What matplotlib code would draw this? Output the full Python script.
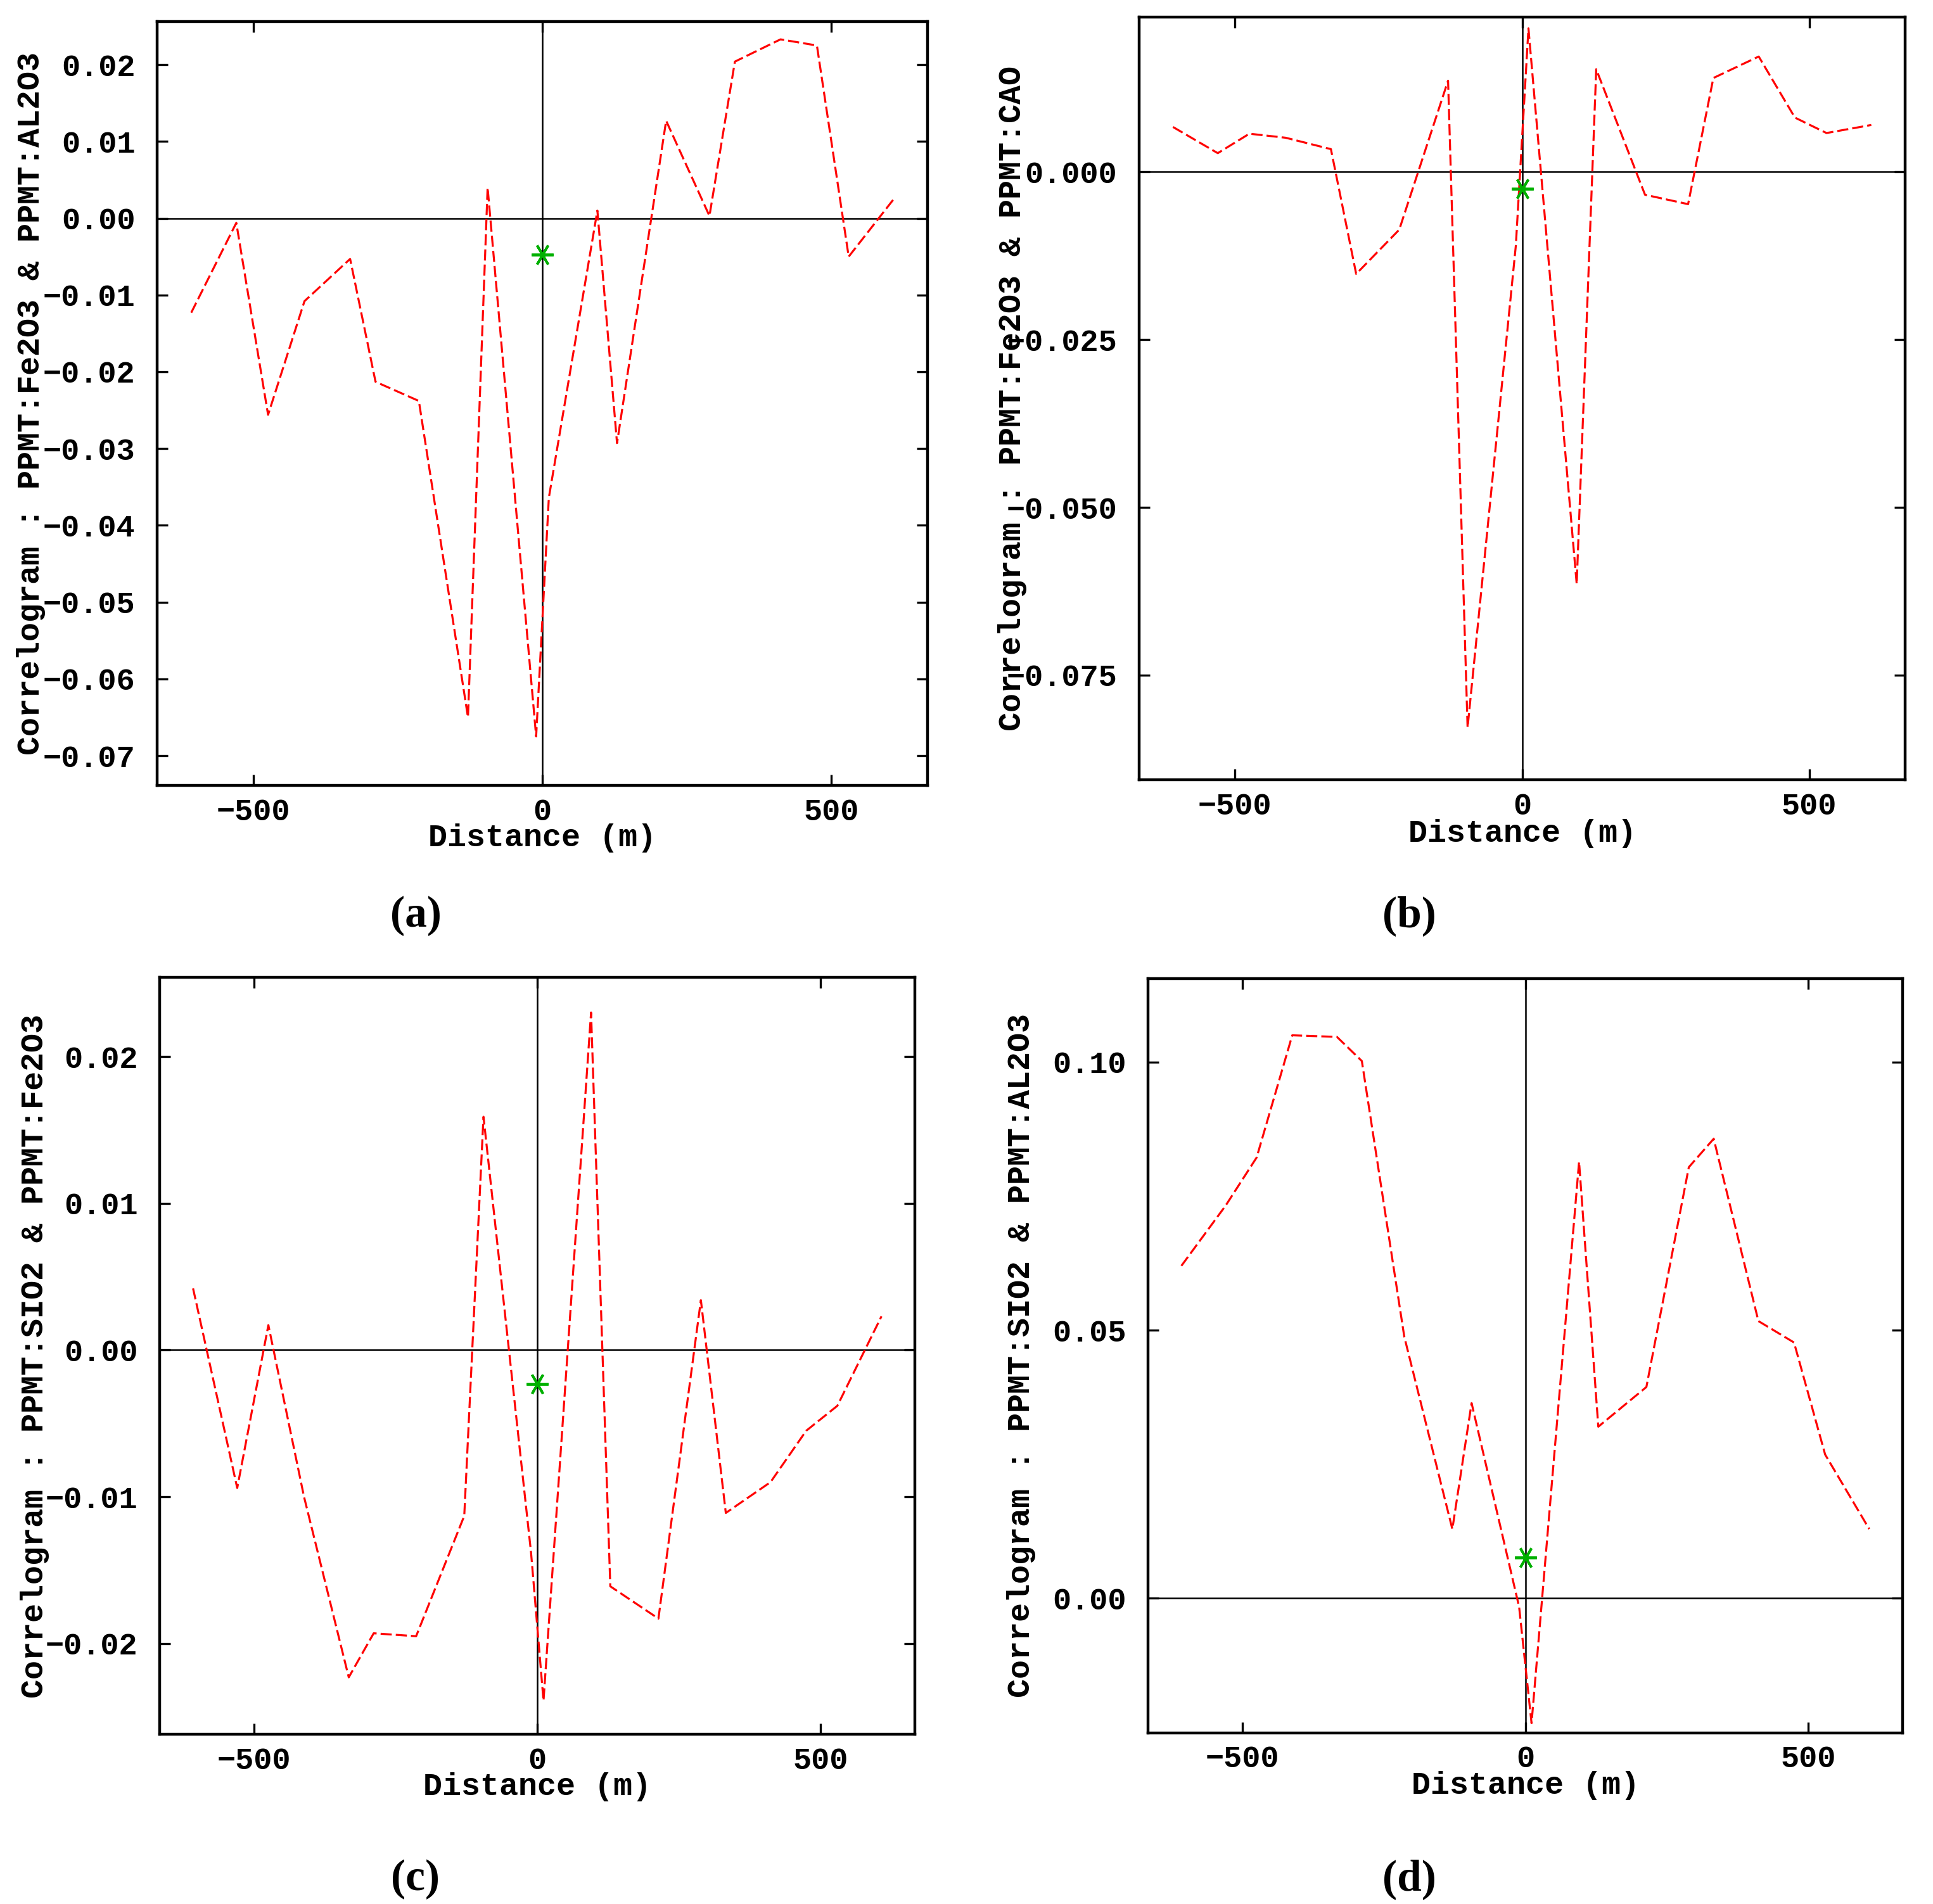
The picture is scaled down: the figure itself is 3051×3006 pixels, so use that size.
import matplotlib
matplotlib.use("Agg")
import matplotlib.pyplot as plt
from matplotlib.ticker import FixedLocator, FuncFormatter

# ---------------- data ----------------
lags = [-608, -530, -475, -412, -333, -289, -214, -129, -95, -11,
        11, 95, 129, 214, 289, 333, 412, 475, 530, 608]

corr_a = [-0.0123, -0.0006, -0.0256, -0.0108, -0.0053, -0.0213, -0.0238, -0.0650, 0.0040, -0.0675,
          -0.0364, 0.0010, -0.0293, 0.0127, 0.0003, 0.0204, 0.0233, 0.0225, -0.0050, 0.0025]
corr_b = [0.0067, 0.0028, 0.0057, 0.0051, 0.0034, -0.0152, -0.0086, 0.0136, -0.0828, -0.0110,
          0.0214, -0.0614, 0.0153, -0.0034, -0.0048, 0.0140, 0.0172, 0.0081, 0.0058, 0.0070]
corr_c = [0.0042, -0.0094, 0.0017, -0.0100, -0.0223, -0.0193, -0.0195, -0.0113, 0.0159, -0.0138,
          -0.0239, 0.0230, -0.0161, -0.0183, 0.0034, -0.0111, -0.0090, -0.0055, -0.0038, 0.0023]
corr_d = [0.0620, 0.0732, 0.0822, 0.1050, 0.1047, 0.1002, 0.0488, 0.0129, 0.0364, -0.0016,
          -0.0233, 0.0814, 0.0320, 0.0394, 0.0804, 0.0857, 0.0517, 0.0477, 0.0268, 0.0129]

star_a, star_b, star_c, star_d = -0.0047, -0.0025, -0.0023, 0.0076

ylabels = ["Correlogram : PPMT:Fe2O3 & PPMT:AL2O3",
           "Correlogram : PPMT:Fe2O3 & PPMT:CAO",
           "Correlogram : PPMT:SIO2 & PPMT:Fe2O3",
           "Correlogram : PPMT:SIO2 & PPMT:AL2O3"]
panel_tags = ["(a)", "(b)", "(c)", "(d)"]
xticks = [-500, 0, 500]
yticks_a = [-0.07, -0.06, -0.05, -0.04, -0.03, -0.02, -0.01, 0.00, 0.01, 0.02]
yticks_b = [-0.075, -0.050, -0.025, 0.000]
yticks_c = [-0.02, -0.01, 0.00, 0.01, 0.02]
yticks_d = [0.00, 0.05, 0.10]
ydec = [2, 3, 2, 2]
ylims = [(-0.0739, 0.0256), (-0.0906, 0.0231), (-0.0262, 0.0254), (-0.0251, 0.1156)]
xlim = (-667, 667)

# ---------------- layout ----------------
positions = [[0.0813, 0.5874, 0.3987, 0.4012],
             [0.5893, 0.5904, 0.3963, 0.4007],
             [0.0826, 0.0890, 0.3907, 0.3977],
             [0.5939, 0.0899, 0.3904, 0.3962]]
ylabel_x = [-0.164, -0.165, -0.165, -0.168]
xlabel_y = [-0.069, -0.0705, -0.069, -0.070]
tag_pos = [(0.215, 0.519), (0.729, 0.519), (0.215, 0.013), (0.729, 0.013)]

MONO = "Liberation Mono"
SERIF = "Liberation Serif"

fig = plt.figure(figsize=(30.51, 30.06), dpi=100)

series = [corr_a, corr_b, corr_c, corr_d]
stars = [star_a, star_b, star_c, star_d]
yticks_all = [yticks_a, yticks_b, yticks_c, yticks_d]


def make_fmt(d):
    def f(v, pos):
        s = f"{abs(v):.{d}f}"
        if v < -1e-12:
            s = "\u2212" + s
        return s
    return f


for i in range(4):
    ax = fig.add_axes(positions[i])
    ax.plot(lags, series[i], color="#ff0000", lw=2.3, linestyle=(0, (5.5, 2.0)), zorder=3)
    ax.axhline(0, color="black", lw=1.8, zorder=2)
    ax.axvline(0, color="black", lw=1.8, zorder=2)
    ax.plot([0], [stars[i]], linestyle="none", marker=(6, 2, 90), markersize=25,
            markeredgewidth=2.8, color="#00b000", zorder=4)
    ax.set_xlim(*xlim)
    ax.set_ylim(*ylims[i])
    ax.set_xticks(xticks)
    ax.set_yticks(yticks_all[i])
    ax.yaxis.set_major_formatter(FuncFormatter(make_fmt(ydec[i])))
    ax.xaxis.set_major_formatter(FuncFormatter(make_fmt(0)))
    neg = [t for t in yticks_all[i] if t < -1e-12]
    ax.yaxis.set_minor_locator(FixedLocator(neg))
    ax.xaxis.set_minor_locator(FixedLocator([]))
    ax.tick_params(axis="both", which="major", direction="in", length=12, width=2.4,
                   top=True, right=True, labelsize=35)
    ax.tick_params(axis="y", which="major", pad=25)
    ax.tick_params(axis="x", which="major", pad=14)
    ax.tick_params(axis="y", which="minor", direction="out", length=14, width=2.4,
                   left=False, right=True)
    for lab in ax.get_xticklabels() + ax.get_yticklabels():
        lab.set_fontfamily(MONO)
        lab.set_fontweight("bold")
    for sp in ax.spines.values():
        sp.set_linewidth(3.2)
    ax.set_xlabel("Distance (m)", fontsize=36, fontfamily=MONO, fontweight="bold")
    ax.xaxis.set_label_coords(0.5, xlabel_y[i])
    ax.xaxis.label.set_va("center")
    ax.set_ylabel(ylabels[i], fontsize=36, fontfamily=MONO, fontweight="bold")
    ax.yaxis.set_label_coords(ylabel_x[i], 0.5)
    ax.yaxis.label.set_va("center")
    fig.text(tag_pos[i][0], tag_pos[i][1], panel_tags[i], fontsize=50,
             fontfamily=SERIF, fontweight="bold", ha="center", va="center")

fig.savefig("out.png", dpi=100, facecolor="white")
